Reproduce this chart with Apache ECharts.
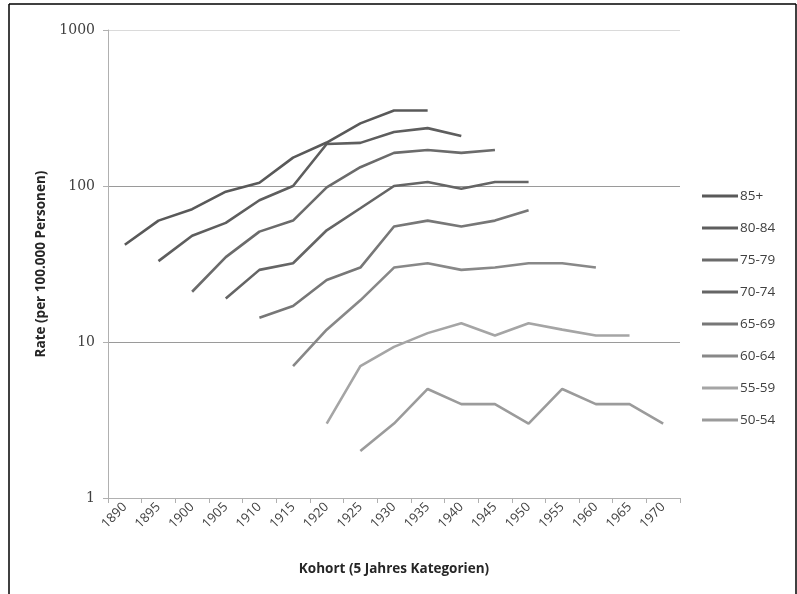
<!DOCTYPE html>
<html><head><meta charset="utf-8">
<script src="https://cdn.jsdelivr.net/npm/echarts@6/dist/echarts.min.js"></script>
<style>html,body{margin:0;padding:0;background:#fff}#c{width:797px;height:594px}</style>
</head><body><div id="c"></div>
<script>
var categories = ['1890','1895','1900','1905','1910','1915','1920','1925','1930','1935','1940','1945','1950','1955','1960','1965','1970'];
var yTicks = [1, 10, 100, 1000];
var seriesNames = ['85+','80-84','75-79','70-74','65-69','60-64','55-59','50-54'];
var s85 = [42,60,71,92,105,152,190,252,305,305,null,null,null,null,null,null,null];
var s80 = [null,33,48,58,81,100,186,189,222,235,209,null,null,null,null,null,null];
var s75 = [null,null,21,35,51,60,98,132,163,170,163,170,null,null,null,null,null];
var s70 = [null,null,null,19,29,32,52,72,100,106,96,106,106,null,null,null,null];
var s65 = [null,null,null,null,14.3,17,25,30,55,60,55,60,70,null,null,null,null];
var s60 = [null,null,null,null,null,7,12,18.5,30,32,29,30,32,32,30,null,null];
var s55 = [null,null,null,null,null,null,3,7,9.3,11.4,13.2,11,13.2,12,11,11,null];
var s50 = [null,null,null,null,null,null,null,2,3,5,4,4,3,5,4,4,3];
var seriesData = [s85,s80,s75,s70,s65,s60,s55,s50];
var colors = ['#595959','#5e5e5e','#6b6b6b','#656565','#777777','#888888','#a5a5a5','#9b9b9b'];

var chart = echarts.init(document.getElementById('c'));
chart.setOption({
  animation: false,
  backgroundColor: '#fff',
  grid: {left: 108, right: 117, top: 30, bottom: 96},
  legend: {
    orient: 'vertical', left: 697, top: 184,
    itemWidth: 36, itemHeight: 3, itemGap: 18,
    icon: 'rect',
    textStyle: {fontFamily: 'Open Sans', fontSize: 13.5, color: '#404040', padding: [0,0,0,-3]},
    data: seriesNames
  },
  xAxis: {
    type: 'category', data: categories, boundaryGap: true,
    axisLine: {lineStyle: {color: '#b0b0b0', width: 1}},
    axisTick: {show: true, length: 5, lineStyle: {color: '#b0b0b0'}},
    axisLabel: {rotate: 45, fontFamily: 'Open Sans', fontSize: 13, color: '#404040', margin: 7, interval: 0},
    name: 'Kohort (5 Jahres Kategorien)', nameLocation: 'middle', nameGap: 64,
    nameTextStyle: {fontFamily: 'Open Sans', fontWeight: 'bold', fontSize: 13.5, color: '#262626'}
  },
  yAxis: {
    type: 'log', logBase: 10, min: 1, max: 1000,
    axisLine: {show: true, lineStyle: {color: '#b0b0b0'}},
    axisTick: {show: true, length: 5, lineStyle: {color: '#b0b0b0'}},
    splitLine: {show: true, lineStyle: {color: ['#c8c8c8','#9a9a9a','#9a9a9a','#dadada'], width: 1}},
    axisLabel: {fontFamily: 'DejaVu Serif', fontSize: 14, color: '#404040', margin: 13,
      formatter: function(v){ return yTicks.indexOf(Math.round(v)) >= 0 ? String(Math.round(v)) : ''; }},
    name: 'Rate (per 100.000 Personen)', nameLocation: 'middle', nameGap: 60, nameRotate: 90,
    nameTextStyle: {fontFamily: 'Open Sans', fontWeight: 'bold', fontSize: 13.5, color: '#262626'}
  },
  series: seriesNames.map(function(n,i){
    return {name: n, type: 'line', data: seriesData[i], showSymbol: false, symbol: 'none',
      lineStyle: {color: colors[i], width: 2.6}, itemStyle: {color: colors[i]}, z: 10 - i};
  }),
  graphic: [
    {type: 'line', shape: {x1: 9, y1: 4, x2: 796, y2: 4}, style: {stroke: '#000', lineWidth: 1.5}},
    {type: 'line', shape: {x1: 9, y1: 4, x2: 9, y2: 594}, style: {stroke: '#000', lineWidth: 1.5}},
    {type: 'line', shape: {x1: 796, y1: 4, x2: 796, y2: 594}, style: {stroke: '#000', lineWidth: 1.5}}
  ]
});
</script></body></html>
